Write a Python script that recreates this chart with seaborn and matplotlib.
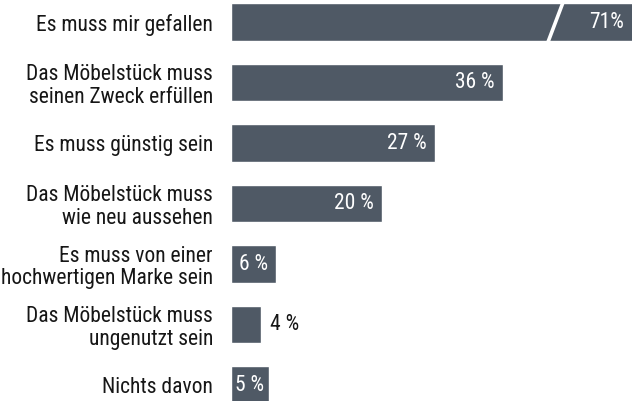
import matplotlib
matplotlib.use("Agg")
import matplotlib.pyplot as plt
import seaborn as sns
import pandas as pd

# Chart data
answers = [
    "Es muss mir gefallen",
    "Das Möbelstück muss\nseinen Zweck erfüllen",
    "Es muss günstig sein",
    "Das Möbelstück muss\nwie neu aussehen",
    "Es muss von einer\nhochwertigen Marke sein",
    "Das Möbelstück muss\nungenutzt sein",
    "Nichts davon",
]
shares = [71, 36, 27, 20, 6, 4, 5]
share_labels = ["71%", "36 %", "27 %", "20 %", "6 %", "4 %", "5 %"]

df = pd.DataFrame({"answer": answers, "share": shares})

sns.set_style("white")
plt.rcParams["font.family"] = ["Roboto Condensed", "Roboto", "DejaVu Sans"]

bar_color = "#4f5965"
text_dark = "#161616"
fsize = 15.5
x_max = 53  # axis cut off, first bar runs past the edge

fig = plt.figure(figsize=(6.32, 4.01), dpi=100)
ax = fig.add_axes([231 / 632, 0, 1 - 231 / 632, 1])

sns.barplot(data=df, x="share", y="answer", orient="h", color=bar_color,
            saturation=1, width=0.62, ax=ax)

ax.set_xlim(0, x_max)
ax.set_ylim(6.26, -0.364)
sns.despine(ax=ax, left=True, bottom=True)
ax.set_xticks([])
ax.set_xlabel("")
ax.set_ylabel("")
ax.tick_params(axis="y", length=0, pad=13, labelsize=fsize, labelcolor=text_dark)
for lbl in ax.get_yticklabels():
    lbl.set_linespacing(1.1)

# value labels
fig.canvas.draw()
renderer = fig.canvas.get_renderer()
px_per_unit = ax.bbox.width / x_max
for i, (v, s) in enumerate(zip(shares, share_labels)):
    if v < 5:
        ax.annotate(s, (v, i), xytext=(6, 0), textcoords="offset points",
                    ha="left", va="center", fontsize=fsize, color=text_dark)
    else:
        t = ax.annotate(s, (min(v, x_max), i), xytext=(-6, 0),
                        textcoords="offset points", ha="right", va="center",
                        fontsize=fsize, color="white")
        w = t.get_window_extent(renderer).width
        bar_px = min(v, x_max) * px_per_unit
        if bar_px - 8 - w < 3:
            # short bar: keep the label inside, near the left edge
            t.xyann = (-(bar_px - w - 4) * 72 / fig.dpi, 0)

# break mark on the cut bar
ax.plot([41.9, 43.9], [0.33, -0.33], color="white", lw=2.6,
        solid_capstyle="butt")

fig.savefig("out.png", dpi=100)
